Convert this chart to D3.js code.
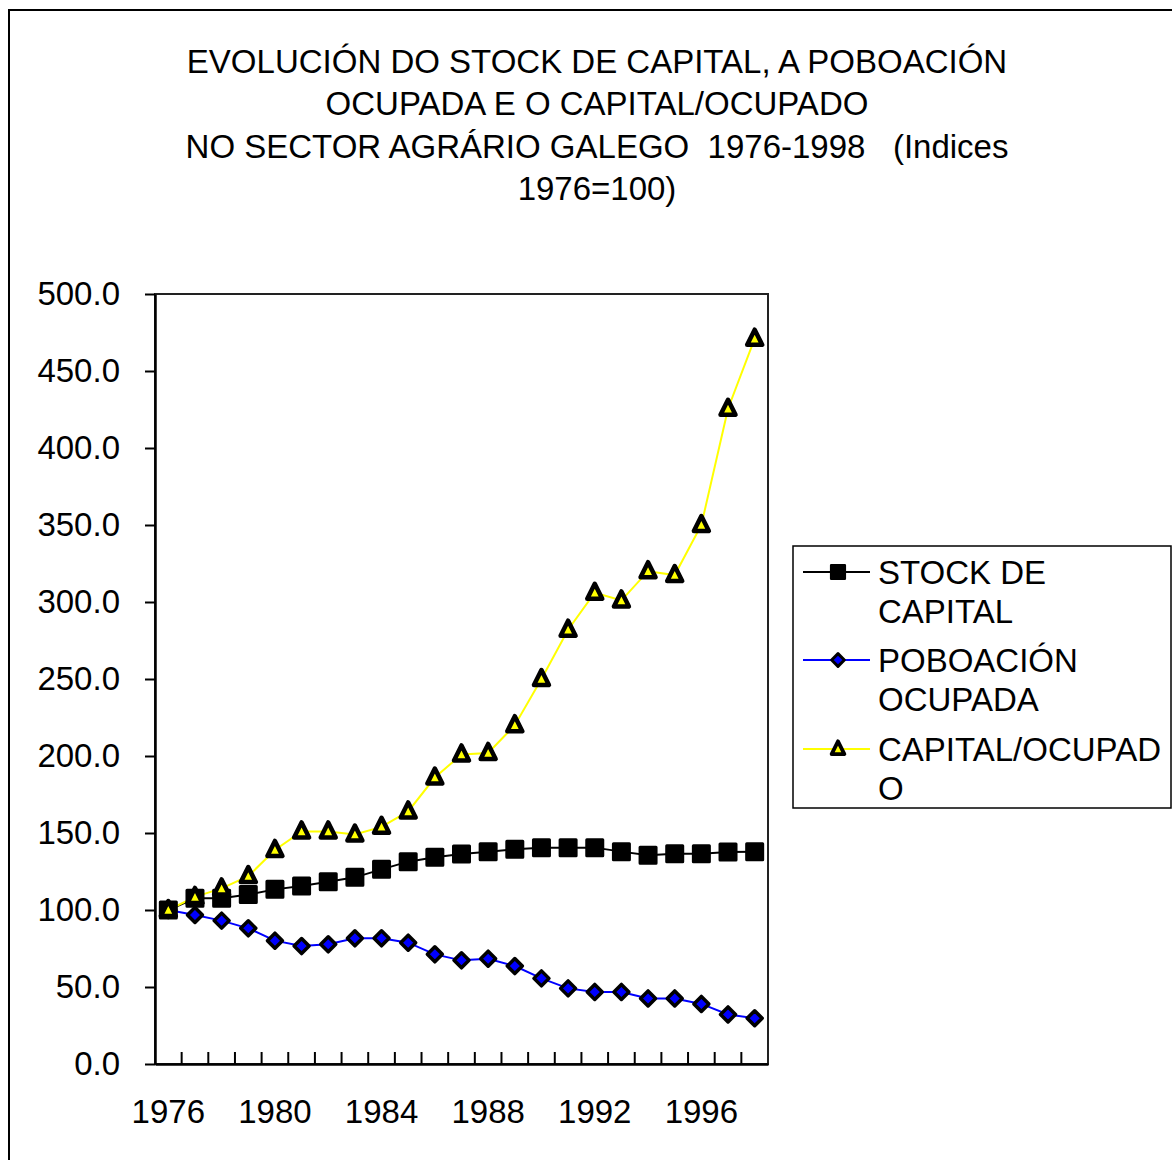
<!DOCTYPE html>
<html>
<head>
<meta charset="utf-8">
<script src="https://cdn.jsdelivr.net/npm/d3@7"></script>
<style>
  body { margin: 0; background: #fff; }
  text { font-family: "Liberation Sans", Arial, sans-serif; fill: #000; }
</style>
</head>
<body>
<svg id="chart" width="1172" height="1160"></svg>
<script>
const years = [1976, 1977, 1978, 1979, 1980, 1981, 1982, 1983, 1984, 1985, 1986, 1987,
  1988, 1989, 1990, 1991, 1992, 1993, 1994, 1995, 1996, 1997, 1998];
const labelYears = [1976, 1980, 1984, 1988, 1992, 1996];
const yTicks = [0, 50, 100, 150, 200, 250, 300, 350, 400, 450, 500];

const stockCapital = [100, 107.6, 107.6, 110, 113.4, 115.6, 118.4, 121.2, 126.4, 131.4, 134.2, 136.4,
  137.9, 139.4, 140.5, 140.5, 140.5, 137.9, 135.5, 136.6, 136.6, 137.7, 137.9];
const poboacion = [100, 96.8, 93.1, 88.1, 80.1, 76.6, 77.7, 81.6, 81.6, 78.8, 71.2, 67.3,
  68.4, 63.6, 55.6, 49.1, 46.8, 46.8, 42.6, 42.6, 39.0, 32.2, 29.7];
const capitalOcupado = [100, 108.5, 114, 122, 139, 151, 151, 149, 154, 164, 186, 201,
  202, 220, 250, 282, 306, 301, 320, 317.5, 350, 425.5, 471];

const titleLines = [
  'EVOLUCIÓN DO STOCK DE CAPITAL, A POBOACIÓN',
  'OCUPADA E O CAPITAL/OCUPADO',
  'NO SECTOR AGRÁRIO GALEGO  1976-1998   (Indices',
  '1976=100)'
];

const series = [
  { name: ['STOCK DE', 'CAPITAL'], values: stockCapital, color: '#000000', marker: 'square' },
  { name: ['POBOACIÓN', 'OCUPADA'], values: poboacion, color: '#0000ff', marker: 'diamond' },
  { name: ['CAPITAL/OCUPAD', 'O'], values: capitalOcupado, color: '#ffff00', marker: 'triangle' }
];

const plot = { left: 155, right: 768, top: 294, bottom: 1064 };
const fontSize = '33px';

const svg = d3.select('#chart');

// outer chart border (runs off the right/bottom edge)
svg.append('rect')
  .attr('x', 9).attr('y', 10)
  .attr('width', 1200).attr('height', 1200)
  .attr('fill', 'none').attr('stroke', '#000').attr('stroke-width', 2);

// title
svg.append('g').selectAll('text')
  .data(titleLines)
  .join('text')
  .attr('x', 597)
  .attr('y', (d, i) => 61 + i * 42.5)
  .attr('text-anchor', 'middle')
  .attr('dominant-baseline', 'central')
  .style('font-size', fontSize)
  .style('white-space', 'pre')
  .text(d => d);

const x = d3.scaleBand().domain(years).range([plot.left, plot.right]);
const y = d3.scaleLinear().domain([0, 500]).range([plot.bottom, plot.top]);

// plot frame
svg.append('rect')
  .attr('x', plot.left).attr('y', plot.top)
  .attr('width', plot.right - plot.left).attr('height', plot.bottom - plot.top)
  .attr('fill', 'none').attr('stroke', '#222').attr('stroke-width', 2);

// y axis
const yAxis = svg.append('g')
  .attr('transform', `translate(${plot.left},0)`)
  .call(d3.axisLeft(y).tickValues(yTicks).tickFormat(d3.format('.1f'))
    .tickSize(10).tickSizeOuter(0).tickPadding(25));
yAxis.selectAll('line').attr('stroke', '#000').attr('stroke-width', 2);
yAxis.select('.domain').attr('stroke', '#000').attr('stroke-width', 2.5);
yAxis.selectAll('text').style('font-size', fontSize).style('font-family', '"Liberation Sans", Arial, sans-serif');

// x axis
const xAxis = svg.append('g')
  .attr('transform', `translate(0,${plot.bottom})`)
  .call(d3.axisBottom(x).tickValues(labelYears).tickSize(0).tickSizeOuter(0).tickPadding(36));
xAxis.select('.domain').attr('stroke', '#000').attr('stroke-width', 2.5);
xAxis.selectAll('text').style('font-size', fontSize).style('font-family', '"Liberation Sans", Arial, sans-serif');

// category boundary ticks (inside)
svg.append('g').selectAll('line')
  .data(years.slice(1))
  .join('line')
  .attr('x1', d => x(d)).attr('x2', d => x(d))
  .attr('y1', plot.bottom).attr('y2', plot.bottom - 12)
  .attr('stroke', '#000').attr('stroke-width', 2);

const markerPath = {
  square: 'M-8,-8H8V8H-8Z',
  diamond: 'M0,-7.5L7.5,0L0,7.5L-7.5,0Z',
  triangle: 'M0,-9L7.5,6L-7.5,6Z'
};
const markerStyle = {
  square: { fill: '#000', stroke: '#000', width: 3 },
  diamond: { fill: '#0000ff', stroke: '#000', width: 3.5 },
  triangle: { fill: '#ffff00', stroke: '#000', width: 4.5 }
};

const line = d3.line()
  .x((d, i) => x(years[i]) + x.bandwidth() / 2)
  .y(d => y(d));

series.forEach(s => {
  svg.append('path')
    .datum(s.values)
    .attr('d', line)
    .attr('fill', 'none')
    .attr('stroke', s.color)
    .attr('stroke-width', 2);
});

series.forEach(s => {
  const st = markerStyle[s.marker];
  svg.append('g').selectAll('path')
    .data(s.values)
    .join('path')
    .attr('transform', (d, i) => `translate(${x(years[i]) + x.bandwidth() / 2},${y(d)})`)
    .attr('d', markerPath[s.marker])
    .attr('fill', st.fill)
    .attr('stroke', st.stroke)
    .attr('stroke-width', st.width)
    .attr('stroke-linejoin', 'round');
});

// legend
const legend = svg.append('g');
legend.append('rect')
  .attr('x', 793).attr('y', 546)
  .attr('width', 378).attr('height', 262)
  .attr('fill', '#fff').attr('stroke', '#000').attr('stroke-width', 1.5);

const legendRowY = [572, 660, 749];
series.forEach((s, i) => {
  const ly = legendRowY[i];
  const st = markerStyle[s.marker];
  legend.append('line')
    .attr('x1', 803).attr('x2', 870)
    .attr('y1', ly).attr('y2', ly)
    .attr('stroke', s.color).attr('stroke-width', 2);
  legend.append('path')
    .attr('transform', `translate(838,${ly}) scale(0.85)`)
    .attr('d', markerPath[s.marker])
    .attr('fill', st.fill)
    .attr('stroke', st.stroke)
    .attr('stroke-width', st.width)
    .attr('stroke-linejoin', 'round');
  s.name.forEach((t, j) => {
    legend.append('text')
      .attr('x', 878)
      .attr('y', ly + j * 39)
      .attr('dominant-baseline', 'central')
      .style('font-size', fontSize)
      .text(t);
  });
});
</script>
</body>
</html>
